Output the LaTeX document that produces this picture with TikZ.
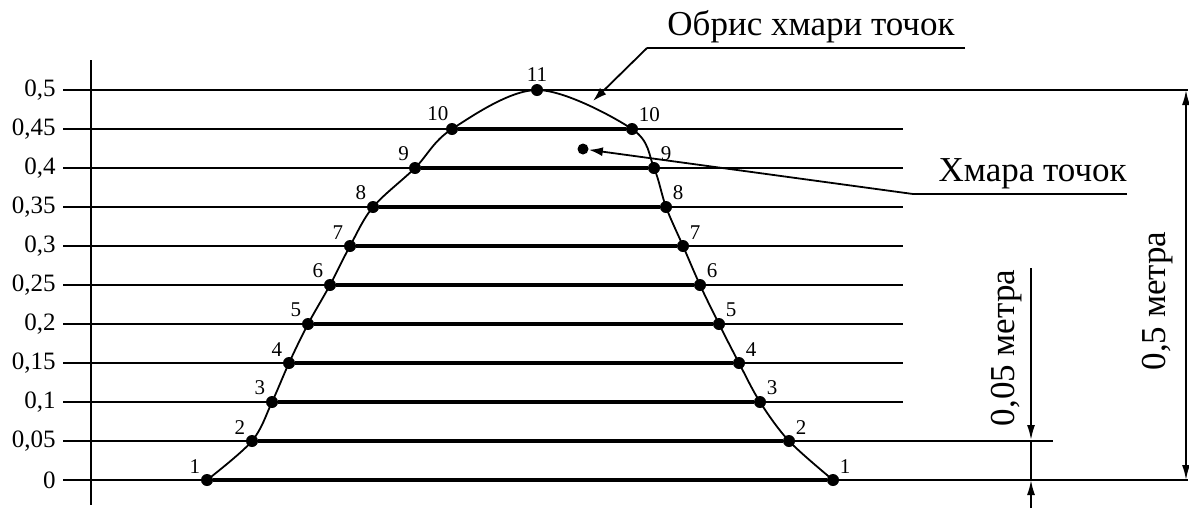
\documentclass[tikz,border=0pt]{standalone}
\usepackage{fontspec}
\setmainfont{Liberation Serif}
\usetikzlibrary{arrows.meta,positioning}
\tikzset{
  gridline/.style={line width=0.9pt, draw=black},
  rungline/.style={line width=1.8pt, draw=black},
  outline/.style={line width=0.9pt, draw=black},
  ptdot/.style={circle, fill=black, inner sep=0pt, minimum size=6pt},
  ptlabel/.style={font=\fontsize{10.5}{12}\selectfont, inner sep=1pt},
  levellabel/.style={font=\fontsize{12.5}{14}\selectfont, anchor=east, inner sep=0pt},
  calloutlabel/.style={font=\fontsize{17.5}{20}\selectfont, inner sep=1pt},
  leader/.style={-{Latex[length=7pt, width=4.5pt]}, line width=0.9pt},
  dimarrow/.style={-{Latex[length=7.5pt, width=4pt]}, line width=0.9pt},
  dimline/.style={{Latex[length=7.5pt, width=4pt]}-{Latex[length=7.5pt, width=4pt]}, line width=0.9pt}
}

\begin{document}
\begin{tikzpicture}[x=0.5pt, y=-0.5pt]
    \useasboundingbox (0,0) rectangle (1189,510);

    % levels and scale
    \foreach \lab/\xend [count=\i from 0] in {0/1188, {0,05}/1053, {0,1}/903, {0,15}/903, {0,2}/903,
        {0,25}/903, {0,3}/903, {0,35}/903, {0,4}/903, {0,45}/903, {0,5}/1188} {
        \node[levellabel] (lev\i) at (56,{480-39*\i}) {\lab};
        \coordinate (gl\i) at (63,{480-39*\i});
        \coordinate (gr\i) at (\xend,{480-39*\i});
        \draw[gridline] (gl\i) -- (gr\i);
    }
    \coordinate (axtop) at (91,60);
    \coordinate (axbot) at (91,505);
    \draw[gridline] (axtop) -- (axbot);

    % points of the cloud outline
    \foreach \i/\xl/\xr/\al in {1/207/833/135, 2/252/789/135, 3/272/760/135, 4/289/739/135, 5/308/719/135,
        6/330/700/135, 7/350/683/135, 8/373/666/135, 9/415/654/125, 10/452/632/100} {
        \node[ptdot, label={[ptlabel]\al:\i}] (L\i) at (\xl,{480-39*(\i-1)}) {};
        \node[ptdot, label={[ptlabel]above right:\i}] (R\i) at (\xr,{480-39*(\i-1)}) {};
        \draw[rungline] (L\i) -- (R\i);
    }
    \node[ptdot, label={[ptlabel]above:11}] (T) at (537,90) {};

    \draw[outline] plot[smooth, tension=0.55] coordinates {(L1.center) (L2.center) (L3.center)
        (L4.center) (L5.center) (L6.center) (L7.center) (L8.center) (L9.center) (L10.center)
        (T.center) (R10.center) (R9.center) (R8.center) (R7.center) (R6.center) (R5.center)
        (R4.center) (R3.center) (R2.center) (R1.center)};

    % callouts
    \node[calloutlabel, anchor=south] (outlinetxt) at (811,45) {Обрис хмари точок};
    \coordinate (outlineul) at (647,48);
    \coordinate (outlineend) at (965,48);
    \coordinate (outlinetip) at (593,101);
    \draw[gridline] (outlineend) -- (outlineul);
    \draw[leader] (outlineul) -- (outlinetip);

    \node[ptdot, minimum size=5.5pt] (cloudpt) at (583,149) {};
    \node[calloutlabel, anchor=south east] (cloudtxt) at (1129,191) {Хмара точок};
    \coordinate (cloudul) at (913,194);
    \coordinate (cloudend) at (1127,194);
    \draw[gridline] (cloudend) -- (cloudul);
    \draw[leader] (cloudul) -- (cloudpt);

    % dimensions
    \coordinate (dimtop) at (1186,90);
    \coordinate (dimbot) at (1186,480);
    \draw[dimline] (dimtop) -- (dimbot);
    \node[calloutlabel, rotate=90] (dimtxt) at (1158,301) {0,5 метра};

    \coordinate (steptop) at (1031,268);
    \coordinate (stepmid) at (1031,440);
    \coordinate (stepbot) at (1031,480);
    \coordinate (steptail) at (1031,508);
    \draw[dimarrow] (steptop) -- (stepmid);
    \draw[line width=0.6pt] (stepmid) -- (stepbot);
    \draw[dimarrow] (steptail) -- (stepbot);
    \node[calloutlabel, rotate=90] (steptxt) at (1007,348) {0,05 метра};
\end{tikzpicture}
\end{document}
